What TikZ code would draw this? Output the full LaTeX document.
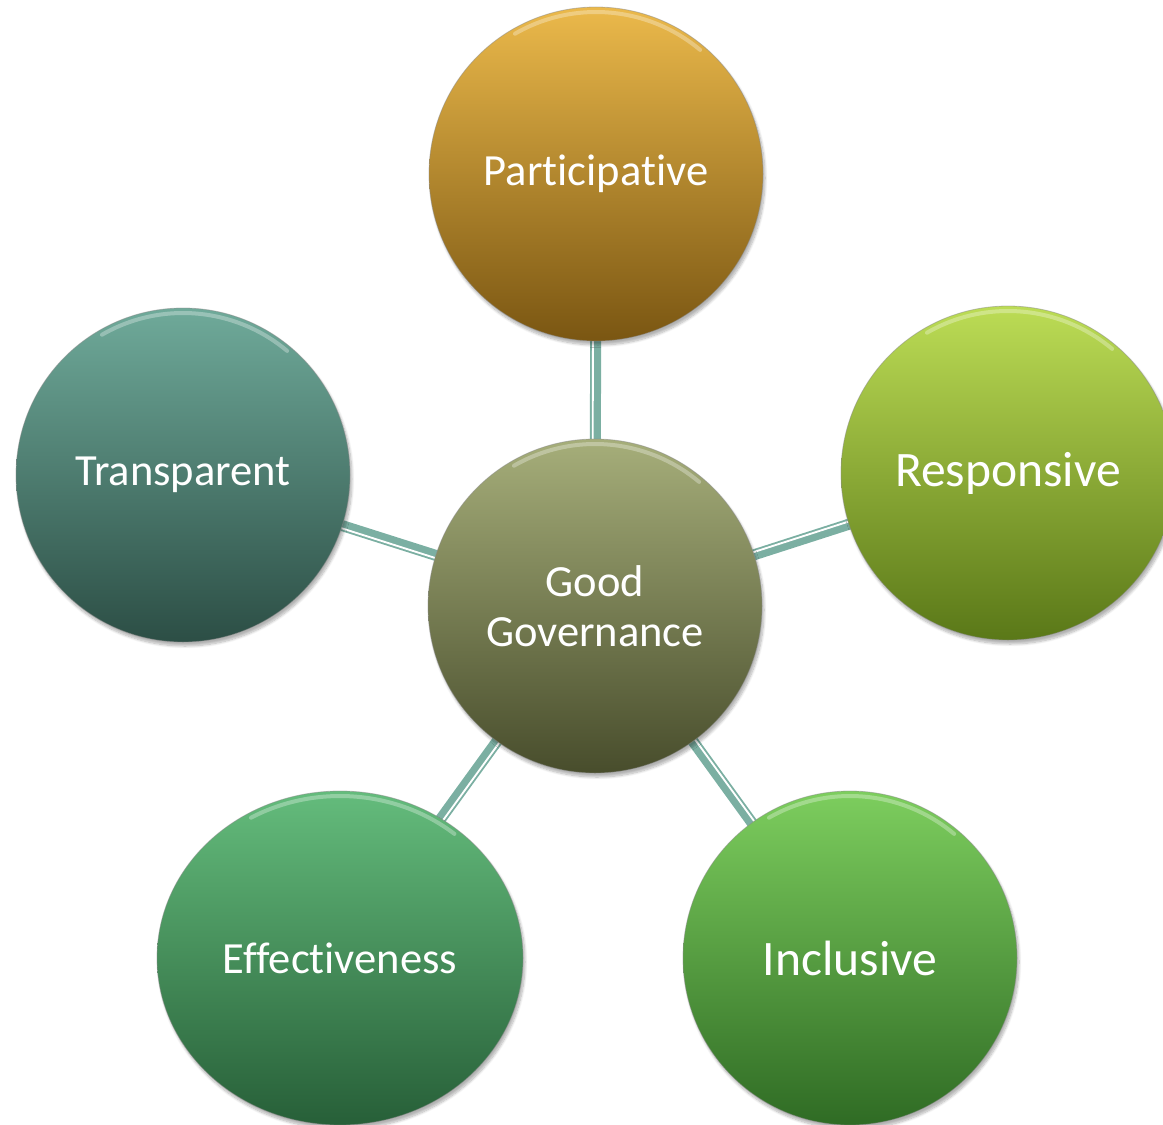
\documentclass[tikz,border=0pt]{standalone}
\usepackage{fontspec}
\setmainfont{Carlito}[Ligatures=NoCommon]
\usetikzlibrary{shapes.geometric,calc,shadows.blur}
\pgfdeclarelayer{background}
\pgfsetlayers{background,main}

\definecolor{partTop}{HTML}{EBB94B}
\definecolor{partBot}{HTML}{7A5612}
\definecolor{transTop}{HTML}{6FAA9A}
\definecolor{transBot}{HTML}{2C4E45}
\definecolor{respTop}{HTML}{BCDC55}
\definecolor{respBot}{HTML}{5A7818}
\definecolor{inclTop}{HTML}{7DCE5E}
\definecolor{inclBot}{HTML}{2F6B24}
\definecolor{effTop}{HTML}{64BC7C}
\definecolor{effBot}{HTML}{275F38}
\definecolor{ggTop}{HTML}{A6AE7A}
\definecolor{ggBot}{HTML}{484D2C}
\definecolor{linkTeal}{HTML}{7BAFA2}

\begin{document}
\begin{tikzpicture}[x=0.75pt,y=0.75pt,yscale=-1,xscale=1,
  bubble/.style={circle,minimum size=250.5pt,inner sep=0pt,align=center,text=white,
    font=\fontsize{33.4}{37.5}\selectfont,draw=black!45,draw opacity=0.5,line width=0.6pt,
    blur shadow={shadow blur steps=8,shadow xshift=1.5pt,shadow yshift=-3pt,shadow opacity=30}},
  big/.style={font=\fontsize{37.2}{40}\selectfont},
  link/.style={line width=8.25pt,color=linkTeal},
  gap/.style={line width=1.4pt,white},
  hilite/.style={white,line width=3pt,opacity=0.3,line cap=round}
]
\useasboundingbox (0,0) rectangle (1163,1124);

%Shape: Circle [centre]
\node [bubble,top color=ggTop,bottom color=ggBot] (gg) at (595,606) {Good\\Governance};
%Shape: Circle [top]
\node [bubble,top color=partTop,bottom color=partBot] (part) at (596,174) {Participative};
%Shape: Circle [left]
\node [bubble,top color=transTop,bottom color=transBot] (trans) at (183,475) {Transparent};
%Shape: Circle [right]
\node [bubble,big,top color=respTop,bottom color=respBot] (resp) at (1008,473) {Responsive};
%Shape: Ellipse [bottom left]
\node [bubble,ellipse,minimum width=274.5pt,minimum height=250.5pt,top color=effTop,bottom color=effBot] (eff) at (340,958) {Effectiveness};
%Shape: Circle [bottom right]
\node [bubble,big,top color=inclTop,bottom color=inclBot] (incl) at (850,958) {Inclusive};

%Straight Lines [connectors]
\begin{pgfonlayer}{background}
\draw [link] (gg.center) -- (part.center);
\draw [gap] ($(gg.center)!2pt!-90:(part.center)$) -- ($(part.center)!2pt!90:(gg.center)$);
\draw [link] (gg.center) -- (trans.center);
\draw [gap] ($(gg.center)!2pt!-90:(trans.center)$) -- ($(trans.center)!2pt!90:(gg.center)$);
\draw [link] (gg.center) -- (resp.center);
\draw [gap] ($(gg.center)!2pt!-90:(resp.center)$) -- ($(resp.center)!2pt!90:(gg.center)$);
\draw [link] (gg.center) -- (eff.center);
\draw [gap] ($(gg.center)!2pt!-90:(eff.center)$) -- ($(eff.center)!2pt!90:(gg.center)$);
\draw [link] (gg.center) -- (incl.center);
\draw [gap] ($(gg.center)!2pt!-90:(incl.center)$) -- ($(incl.center)!2pt!90:(gg.center)$);
\end{pgfonlayer}

% glossy rims
\draw [hilite] ($(gg.center)+(-120:162)$) arc [start angle=-120,end angle=-50,radius=162];
\draw [hilite] ($(part.center)+(-120:162)$) arc [start angle=-120,end angle=-50,radius=162];
\draw [hilite] ($(trans.center)+(-120:162)$) arc [start angle=-120,end angle=-50,radius=162];
\draw [hilite] ($(resp.center)+(-120:162)$) arc [start angle=-120,end angle=-50,radius=162];
\draw [hilite] ($(incl.center)+(-120:162)$) arc [start angle=-120,end angle=-50,radius=162];
\draw [hilite] (eff.center) ++(-120:178 and 162) arc [start angle=-120,end angle=-50,x radius=178,y radius=162];

\end{tikzpicture}
\end{document}
